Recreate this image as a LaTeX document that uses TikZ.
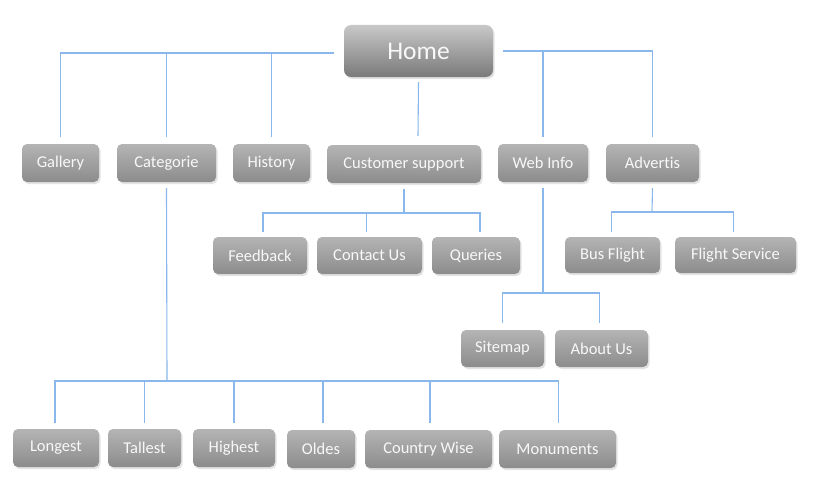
\documentclass[tikz,border=0pt]{standalone}
\usepackage{fontspec}
\setmainfont{Carlito}[Ligatures={NoCommon}]
\usetikzlibrary{shadows}
\definecolor{linec}{HTML}{8AB8EC}
\definecolor{boxtop}{HTML}{B4B4B4}
\definecolor{boxbot}{HTML}{8C8C8C}
\definecolor{hometop}{HTML}{C8C8C8}
\definecolor{homebot}{HTML}{7A7A7A}
\definecolor{boxtext}{HTML}{F8F8F8}
\tikzset{
  box/.style={rectangle, rounded corners=5pt, top color=boxtop, bottom color=boxbot,
    draw=none, text=boxtext, font=\fontsize{16.5}{19}\selectfont, inner sep=0pt,
    minimum height=38pt,
    drop shadow={shadow xshift=1.5pt, shadow yshift=-2pt, opacity=0.22}},
  homebox/.style={box, top color=hometop, bottom color=homebot, rounded corners=7pt,
    font=\fontsize{25.5}{30}\selectfont, minimum height=52pt, minimum width=149pt},
  conn/.style={draw=linec, line width=1.1pt}
}
\begin{document}
\begin{tikzpicture}[x=1pt,y=-1pt]
\useasboundingbox[fill=white] (0,0) rectangle (821,495);
% nodes
\node[homebox] (home) at (418.5,51) {Home};
\node[box, minimum width=77pt]  (gallery)   at (60.5,163)  {Gallery};
\node[box, minimum width=99pt]  (categorie) at (166.5,163) {Categorie};
\node[box, minimum width=77pt]  (history)   at (271.5,163) {History};
\node[box, minimum width=154pt] (custsup)   at (404,164)   {Customer support};
\node[box, minimum width=90pt]  (webinfo)   at (543,163)   {Web Info};
\node[box, minimum width=93pt]  (advertis)  at (652.5,163) {Advertis};
\node[box, minimum width=94pt, minimum height=37pt]  (feedback) at (260,255.5)   {Feedback};
\node[box, minimum width=105pt, minimum height=37pt] (contact)  at (369.5,255.5) {Contact Us};
\node[box, minimum width=88pt, minimum height=37pt]  (queries)  at (476,255.5)   {Queries};
\node[box, minimum width=95pt, minimum height=36pt]  (busflight) at (612.5,255) {Bus Flight};
\node[box, minimum width=121pt, minimum height=36pt] (flightsvc) at (735.5,255) {Flight Service};
\node[box, minimum width=83pt, minimum height=37pt] (sitemap) at (502.5,348.5) {Sitemap};
\node[box, minimum width=93pt, minimum height=37pt] (aboutus) at (601.5,348.5) {About Us};
\node[box, minimum width=86pt]  (longest)   at (56,448)    {Longest};
\node[box, minimum width=73pt]  (tallest)   at (144.5,448) {Tallest};
\node[box, minimum width=82pt]  (highest)   at (234,448)   {Highest};
\node[box, minimum width=68pt]  (oldes)     at (321,449)   {Oldes};
\node[box, minimum width=127pt] (cwise)     at (428.5,449) {Country Wise};
\node[box, minimum width=117pt] (monuments) at (557.5,449) {Monuments};
% bus coordinates
\coordinate (hL) at (334,53);
\coordinate (hR) at (503,51);
\coordinate (homeEnd) at (418,136);
\coordinate (csB) at (404,213);
\coordinate (adB) at (652,212);
\coordinate (wiB) at (543,293);
\coordinate (caB) at (167,381);
% home connectors
\draw[conn] (hL) -| ([yshift=7pt]gallery.north);
\draw[conn] ([yshift=7pt]categorie.north) -- (categorie.north |- hL);
\draw[conn] ([yshift=7pt]history.north) -- (history.north |- hL);
\draw[conn] ([yshift=-5pt]home.south) -- (homeEnd);
\draw[conn] (hR) -| ([yshift=7pt]advertis.north);
\draw[conn] ([yshift=7pt]webinfo.north) -- (webinfo.north |- hR);
% customer support
\draw[conn] ([yshift=-6pt]custsup.south) -- (csB);
\draw[conn] ([xshift=3pt,yshift=5pt]feedback.north) |- (csB) -| ([xshift=4pt,yshift=5pt]queries.north);
\draw[conn] ([xshift=-3pt,yshift=5pt]contact.north) -- ([xshift=-3pt]contact.north |- csB);
% advertis
\draw[conn] ([yshift=-6pt]advertis.south) -- (adB);
\draw[conn] ([xshift=-1pt,yshift=5pt]busflight.north) |- (adB) -| ([xshift=-2pt,yshift=5pt]flightsvc.north);
% web info
\draw[conn] ([yshift=-6pt]webinfo.south) -- (wiB);
\draw[conn] ([yshift=7pt]sitemap.north) |- (wiB) -| ([xshift=-2pt,yshift=7pt]aboutus.north);
% categorie
\draw[conn] ([yshift=-6pt]categorie.south) -- (caB);
\draw[conn] ([xshift=-1pt,yshift=6pt]longest.north) |- (caB) -| ([xshift=1pt,yshift=7pt]monuments.north);
\draw[conn] ([yshift=6pt]tallest.north) -- (tallest.north |- caB);
\draw[conn] ([yshift=6pt]highest.north) -- (highest.north |- caB);
\draw[conn] ([xshift=2pt,yshift=7pt]oldes.north) -- ([xshift=2pt]oldes.north |- caB);
\draw[conn] ([xshift=1.5pt,yshift=7pt]cwise.north) -- ([xshift=1.5pt]cwise.north |- caB);
\end{tikzpicture}
\end{document}
